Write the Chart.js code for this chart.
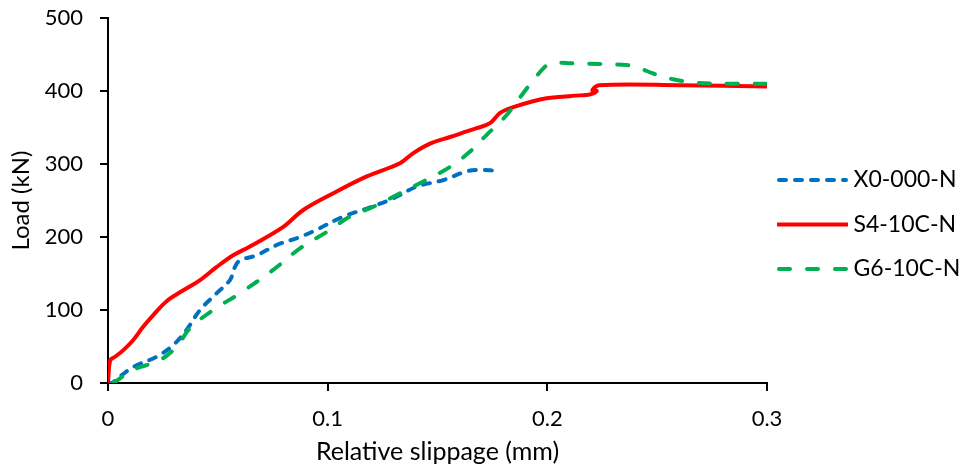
<!DOCTYPE html>
<html>
<head>
<meta charset="utf-8">
<title>Load vs relative slippage</title>
<script src="https://cdn.jsdelivr.net/npm/chart.js@4.4.1/dist/chart.umd.min.js"></script>
<style>
  html, body { margin: 0; padding: 0; background: #fff; }
  canvas { display: block; }
</style>
</head>
<body>
<canvas id="slipChart" width="963" height="468"></canvas>
<script>
// relative slippage (mm) / load (kN) for each specimen
const x0Slip = [0, 0.0017, 0.0055, 0.0115, 0.0222, 0.0297, 0.0358, 0.0419, 0.0495, 0.0555, 0.0578, 0.0601, 0.0677, 0.0768, 0.0874, 0.095, 0.1071, 0.1178, 0.1299, 0.1405, 0.1526, 0.1633, 0.1693, 0.1762];
const x0Load = [0, 0, 9, 22, 36, 52, 73, 100, 123, 141, 159, 168, 175, 189, 200, 210, 228, 239, 253, 269, 278, 290, 292, 291];

const s4Slip = [0, 0.001, 0.0032, 0.007, 0.0115, 0.016, 0.0206, 0.0267, 0.0343, 0.0419, 0.0495, 0.057, 0.0646, 0.0798, 0.0889, 0.1026, 0.1178, 0.1329, 0.139, 0.1466, 0.1557, 0.1678, 0.1739, 0.1785, 0.1845, 0.1997, 0.2149, 0.219, 0.2225, 0.2205, 0.2235, 0.26, 0.3];
const s4Load = [0, 31, 36, 45, 59, 77, 93, 112, 127, 141, 159, 175, 187, 214, 237, 260, 283, 301, 315, 328, 337, 349, 356, 370, 378, 390, 394, 395, 400, 401, 408, 408, 406];

const g6Slip = [0.0024, 0.0115, 0.0237, 0.0313, 0.0373, 0.0479, 0.0601, 0.0752, 0.0874, 0.0996, 0.1102, 0.1208, 0.1314, 0.1435, 0.1557, 0.1648, 0.1724, 0.1762, 0.1815, 0.189, 0.1936, 0.1982, 0.2012, 0.2118, 0.224, 0.2361, 0.2422, 0.2482, 0.2573, 0.268, 0.2847, 0.3];
const g6Load = [0, 18, 31.5, 50, 75, 100, 123, 155, 184.5, 207, 228, 241.5, 257.5, 276, 296, 317, 340, 351, 367, 397, 415, 431, 438, 438, 437, 435.5, 431, 424, 416, 411, 410, 410];

const seriesNames = ['X0-000-N', 'S4-10C-N', 'G6-10C-N'];
const xTicks = [0, 0.1, 0.2, 0.3];
const yTicks = [0, 100, 200, 300, 400, 500];

const FONT = 'Lato, "Liberation Sans", Arial, sans-serif';
const INK = '#000';

const lineStyles = [
  { color: '#0070C0', dash: [7, 9] },
  { color: '#FF0000', dash: [] },
  { color: '#00B050', dash: [11, 17] }
];

// small canvases used as legend symbols so the dash pattern shows
function legendIcon(style) {
  const c = document.createElement('canvas');
  c.width = 71;
  c.height = 6;
  const g = c.getContext('2d');
  g.strokeStyle = style.color;
  g.lineWidth = 4;
  g.lineCap = style.dash.length ? 'round' : 'butt';
  g.setLineDash(style.dash);
  g.beginPath();
  g.moveTo(style.dash.length ? 2 : 0, 3);
  g.lineTo(style.dash.length ? 69 : 71, 3);
  g.stroke();
  return c;
}
const legendIcons = lineStyles.map(legendIcon);

// place the right-hand legend next to the plot after layout
const LEGEND_DX = -5.5;
const LEGEND_DY = -18.5;
const legendNudge = {
  id: 'legendNudge',
  afterLayout(chart) {
    const lg = chart.legend;
    if (!lg) return;
    lg.left += LEGEND_DX;
    lg.right = chart.width;
    lg.top += LEGEND_DY;
    lg.bottom += LEGEND_DY;
  }
};

function pairs(xs, ys) {
  return xs.map((x, i) => ({ x: x, y: ys[i] }));
}

const datasets = [[x0Slip, x0Load], [s4Slip, s4Load], [g6Slip, g6Load]].map((d, i) => ({
  label: seriesNames[i],
  data: pairs(d[0], d[1]),
  borderColor: lineStyles[i].color,
  borderWidth: 4,
  borderDash: lineStyles[i].dash,
  borderCapStyle: lineStyles[i].dash.length ? 'round' : 'butt',
  order: 3 - i
}));

new Chart(document.getElementById('slipChart').getContext('2d'), {
  type: 'line',
  data: { datasets: datasets },
  options: {
    responsive: false,
    animation: false,
    devicePixelRatio: 1,
    parsing: false,
    elements: {
      point: { radius: 0, hoverRadius: 0 },
      line: { tension: 0.35, fill: false }
    },
    layout: { padding: { left: 0, top: 18, right: 0, bottom: 0 } },
    scales: {
      x: {
        type: 'linear',
        min: 0,
        max: 0.3,
        afterBuildTicks: (axis) => { axis.ticks = xTicks.map(v => ({ value: v })); },
        afterFit: (axis) => { axis.height = 85; axis.paddingLeft = 0; axis.paddingRight = 0; },
        ticks: {
          color: INK,
          padding: 15,
          font: { family: FONT, size: 22 },
          callback: (v) => String(+v.toFixed(1))
        },
        grid: { drawOnChartArea: false, drawTicks: true, tickLength: 8, color: INK, lineWidth: 2 },
        border: { display: true, color: INK, width: 2 },
        title: {
          display: true,
          text: 'Relative slippage (mm)',
          color: INK,
          font: { family: FONT, size: 25 },
          padding: { top: 0, bottom: 1.5 }
        }
      },
      y: {
        min: 0,
        max: 500,
        afterBuildTicks: (axis) => { axis.ticks = yTicks.map(v => ({ value: v })); },
        afterFit: (axis) => { axis.width = 108; axis.paddingTop = 0; axis.paddingBottom = 0; },
        ticks: {
          color: INK,
          padding: 17,
          font: { family: FONT, size: 22 }
        },
        grid: { drawOnChartArea: false, drawTicks: true, tickLength: 8, color: INK, lineWidth: 2 },
        border: { display: true, color: INK, width: 2 },
        title: {
          display: true,
          text: 'Load (kN)',
          color: INK,
          font: { family: FONT, size: 24 },
          padding: { top: 7, bottom: 0 }
        }
      }
    },
    plugins: {
      tooltip: { enabled: false },
      legend: {
        position: 'right',
        maxWidth: 196,
        labels: {
          color: INK,
          font: { family: FONT, size: 23 },
          usePointStyle: true,
          pointStyleWidth: 59,
          padding: 21.5,
          sort: (a, b) => a.datasetIndex - b.datasetIndex,
          generateLabels(chart) {
            const items = Chart.defaults.plugins.legend.labels.generateLabels(chart);
            items.forEach(it => { it.pointStyle = legendIcons[it.datasetIndex]; });
            return items;
          }
        }
      }
    }
  },
  plugins: [legendNudge]
});
</script>
</body>
</html>
